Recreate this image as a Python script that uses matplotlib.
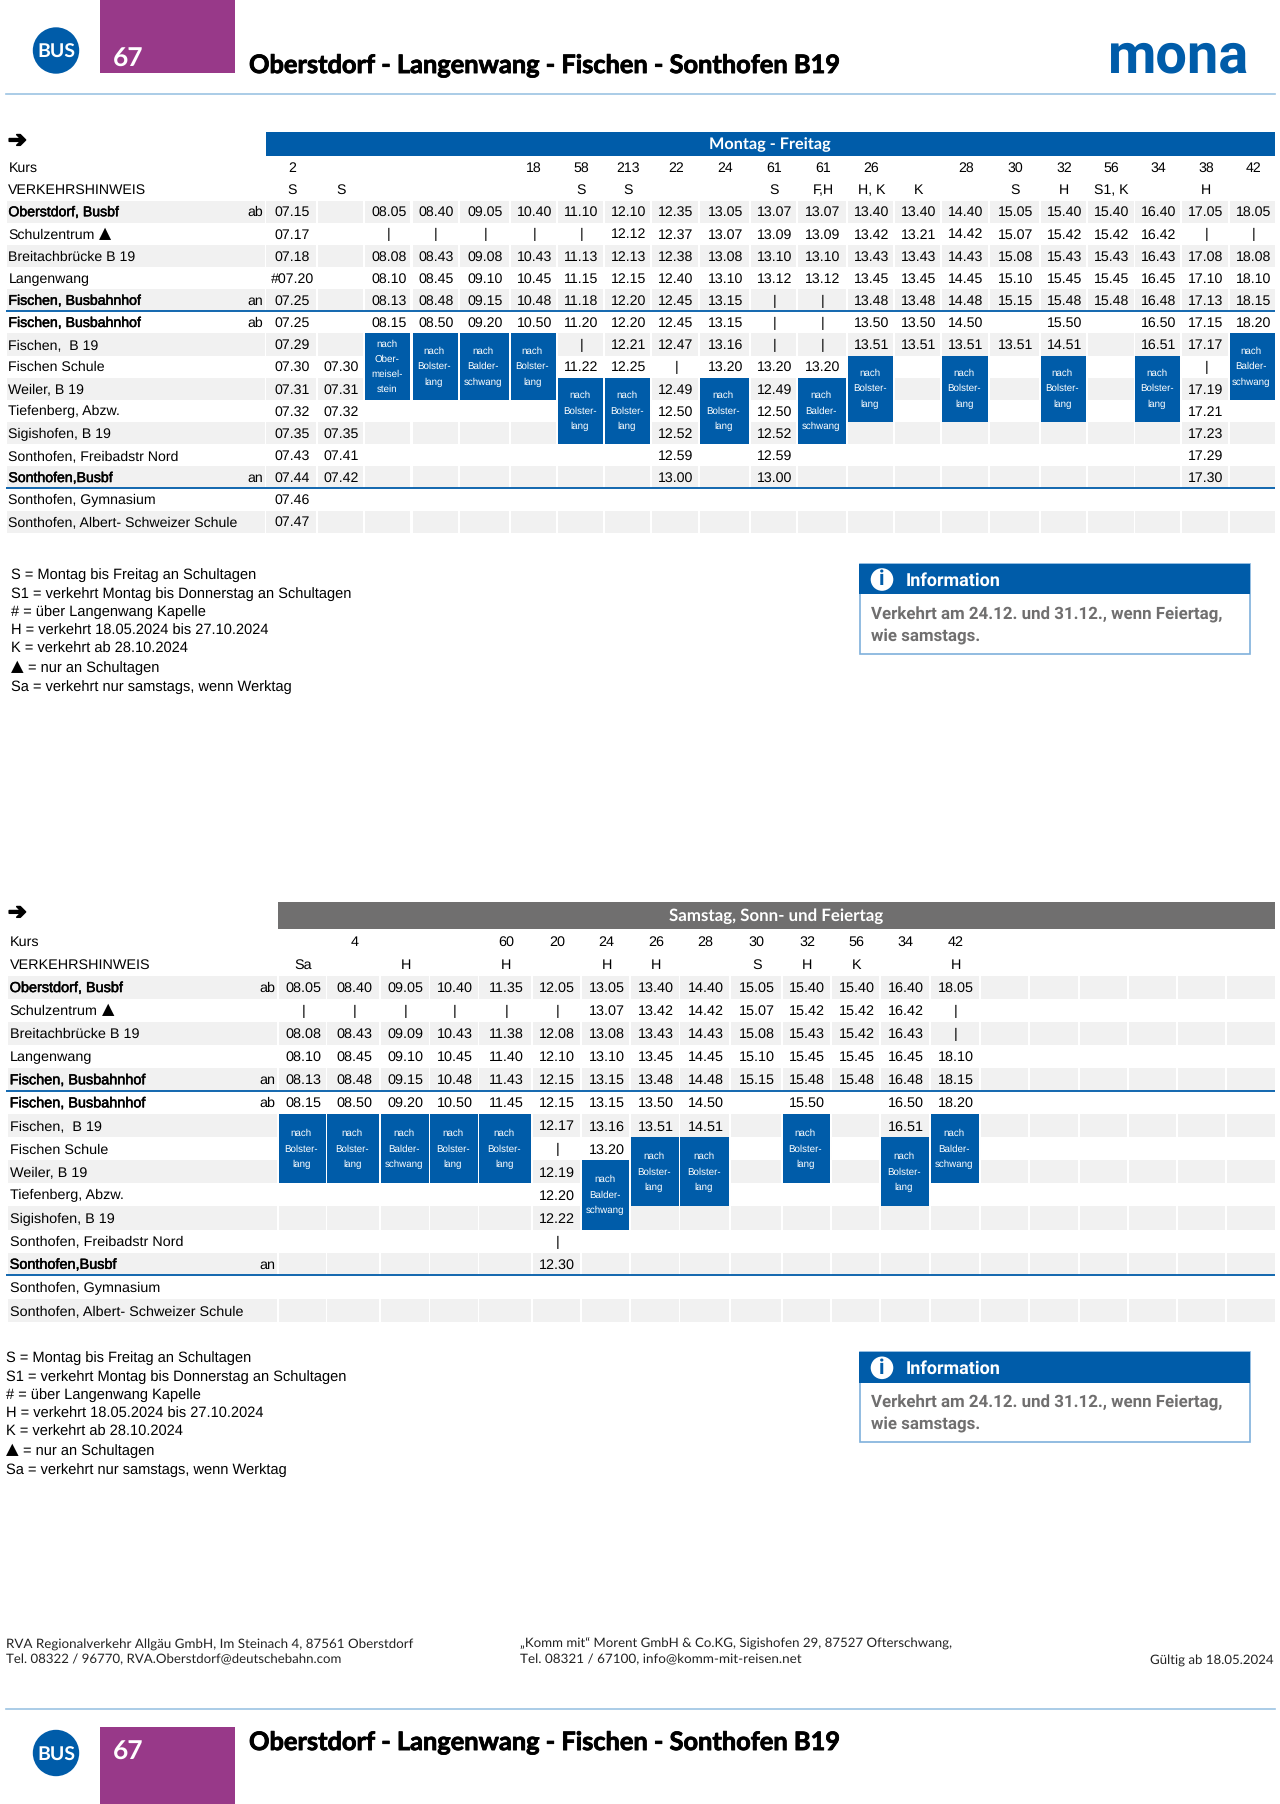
import matplotlib
matplotlib.use("Agg")
import matplotlib.pyplot as plt
from matplotlib.patches import Rectangle, Circle
import matplotlib.patheffects as pe

plt.rcParams['font.family'] = ['Liberation Sans', 'DejaVu Sans']
plt.rcParams['text.hinting'] = 'none'

BLUE = '#005ca9'
BAND = '#f1f1f1'
GREY = '#706f6f'
RULE = '#9cc3e3'
PURPLE = '#983989'
DIN = 'Lato'

# timetable content
stops = ["Oberstdorf, Busbf", "Schulzentrum ▲", "Breitachbrücke B 19", "Langenwang",
         "Fischen, Busbahnhof", "Fischen, Busbahnhof", "Fischen,  B 19", "Fischen Schule",
         "Weiler, B 19", "Tiefenberg, Abzw.", "Sigishofen, B 19", "Sonthofen, Freibadstr Nord",
         "Sonthofen,Busbf", "Sonthofen, Gymnasium", "Sonthofen, Albert- Schweizer Schule"]
bold_stops = [0, 4, 5, 12]
ab_an = ["ab", "", "", "", "an", "ab", "", "", "", "", "", "", "an", "", ""]

kurs_mf = ["2", "", "", "", "", "18", "58", "213", "22", "24", "61", "61", "26", "", "28", "30", "32", "56", "34", "38", "42"]
hinweis_mf = ["S", "S", "", "", "", "", "S", "S", "", "", "S", "F,H", "H, K", "K", "", "S", "H", "S1, K", "", "H", ""]
times_mf = [
    ["07.15", "07.17", "07.18", "#07.20", "07.25", "07.25", "07.29", "07.30", "07.31", "07.32", "07.35", "07.43", "07.44", "07.46", "07.47"],
    ["", "", "", "", "", "", "", "07.30", "07.31", "07.32", "07.35", "07.41", "07.42"],
    ["08.05", "|", "08.08", "08.10", "08.13", "08.15"],
    ["08.40", "|", "08.43", "08.45", "08.48", "08.50"],
    ["09.05", "|", "09.08", "09.10", "09.15", "09.20"],
    ["10.40", "|", "10.43", "10.45", "10.48", "10.50"],
    ["11.10", "|", "11.13", "11.15", "11.18", "11.20", "|", "11.22"],
    ["12.10", "12.12", "12.13", "12.15", "12.20", "12.20", "12.21", "12.25"],
    ["12.35", "12.37", "12.38", "12.40", "12.45", "12.45", "12.47", "|", "12.49", "12.50", "12.52", "12.59", "13.00"],
    ["13.05", "13.07", "13.08", "13.10", "13.15", "13.15", "13.16", "13.20"],
    ["13.07", "13.09", "13.10", "13.12", "|", "|", "|", "13.20", "12.49", "12.50", "12.52", "12.59", "13.00"],
    ["13.07", "13.09", "13.10", "13.12", "|", "|", "|", "13.20"],
    ["13.40", "13.42", "13.43", "13.45", "13.48", "13.50", "13.51"],
    ["13.40", "13.21", "13.43", "13.45", "13.48", "13.50", "13.51"],
    ["14.40", "14.42", "14.43", "14.45", "14.48", "14.50", "13.51"],
    ["15.05", "15.07", "15.08", "15.10", "15.15", "", "13.51"],
    ["15.40", "15.42", "15.43", "15.45", "15.48", "15.50", "14.51"],
    ["15.40", "15.42", "15.43", "15.45", "15.48"],
    ["16.40", "16.42", "16.43", "16.45", "16.48", "16.50", "16.51"],
    ["17.05", "|", "17.08", "17.10", "17.13", "17.15", "17.17", "|", "17.19", "17.21", "17.23", "17.29", "17.30"],
    ["18.05", "|", "18.08", "18.10", "18.15", "18.20"],
]
kurs_sa = ["", "4", "", "", "60", "20", "24", "26", "28", "30", "32", "56", "34", "42"]
hinweis_sa = ["Sa", "", "H", "", "H", "", "H", "H", "", "S", "H", "K", "", "H"]
times_sa = [
    ["08.05", "|", "08.08", "08.10", "08.13", "08.15"],
    ["08.40", "|", "08.43", "08.45", "08.48", "08.50"],
    ["09.05", "|", "09.09", "09.10", "09.15", "09.20"],
    ["10.40", "|", "10.43", "10.45", "10.48", "10.50"],
    ["11.35", "|", "11.38", "11.40", "11.43", "11.45"],
    ["12.05", "|", "12.08", "12.10", "12.15", "12.15", "12.17", "|", "12.19", "12.20", "12.22", "|", "12.30"],
    ["13.05", "13.07", "13.08", "13.10", "13.15", "13.15", "13.16", "13.20"],
    ["13.40", "13.42", "13.43", "13.45", "13.48", "13.50", "13.51"],
    ["14.40", "14.42", "14.43", "14.45", "14.48", "14.50", "14.51"],
    ["15.05", "15.07", "15.08", "15.10", "15.15"],
    ["15.40", "15.42", "15.43", "15.45", "15.48", "15.50"],
    ["15.40", "15.42", "15.42", "15.45", "15.48"],
    ["16.40", "16.42", "16.43", "16.45", "16.48", "16.50", "16.51"],
    ["18.05", "|", "|", "18.10", "18.15", "18.20"],
]

# "nach ..." blocks: column, first stop index, text lines
OBER = ["nach", "Ober-", "meisel-", "stein"]
BOLS = ["nach", "Bolster-", "lang"]
BALD = ["nach", "Balder-", "schwang"]
blocks_mf = [(2, 6, OBER), (3, 6, BOLS), (4, 6, BALD), (5, 6, BOLS), (6, 8, BOLS), (7, 8, BOLS),
             (9, 8, BOLS), (11, 8, BALD), (12, 7, BOLS), (14, 7, BOLS), (16, 7, BOLS), (18, 7, BOLS),
             (20, 6, BALD)]
blocks_sa = [(0, 6, BOLS), (1, 6, BOLS), (2, 6, BALD), (3, 6, BOLS), (4, 6, BOLS), (6, 8, BALD),
             (7, 7, BOLS), (8, 7, BOLS), (10, 6, BOLS), (12, 7, BOLS), (13, 6, BALD)]

notes = ["S = Montag bis Freitag an Schultagen", "S1 = verkehrt Montag bis Donnerstag an Schultagen",
         "# = über Langenwang Kapelle", "H = verkehrt 18.05.2024 bis 27.10.2024", "K = verkehrt ab 28.10.2024",
         "▲ = nur an Schultagen", "Sa = verkehrt nur samstags, wenn Werktag"]
info_lines = ["Verkehrt am 24.12. und 31.12., wenn Feiertag,", "wie samstags."]
title = "Oberstdorf - Langenwang - Fischen - Sonthofen B19"

# layout in pixels
edges_mf = [(266.4, 315.7), (317.8, 362.8), (364.9, 410.4), (412.5, 457.5), (459.6, 508.8), (510.5, 556),
            (558, 603), (604.8, 650.3), (652.2, 698), (699.6, 749), (751, 796), (798, 846), (848, 893),
            (895, 940.4), (942.4, 987.8), (989.8, 1038.8), (1040.8, 1086), (1088, 1133.5), (1135, 1180.4),
            (1182.4, 1227.8), (1229.8, 1274.7)]
edges_sa = [(278.6, 325.8), (327.4, 379.2), (380.9, 428.5), (430, 477.7), (479.4, 531), (532.8, 580),
            (582, 629.2), (630.9, 678.8), (680.4, 729), (730.6, 780.8), (782.9, 829.8), (831.8, 879.2),
            (881.2, 928.6), (930.6, 979.2), (980.8, 1028.2), (1029.8, 1077.6), (1079.6, 1127), (1129, 1176),
            (1178, 1225), (1227, 1274.7)]

fig = plt.figure(figsize=(12.8, 18.04), dpi=100)
ax = fig.add_axes([0, 0, 1, 1])
ax.set_xlim(0, 1280)
ax.set_ylim(1804, 0)
ax.axis('off')


def rect(x0, y0, x1, y1, color, z=1, **kw):
    ax.add_patch(Rectangle((x0, y0), x1 - x0, y1 - y0, facecolor=color, edgecolor='none', zorder=z, **kw))


def fit_text(x, y, s, width, family=DIN, **kw):
    # scale a DIN stand-in so it spans the same width as the reference
    t = ax.text(x, y, s, va='center', family=family, **kw)
    w = t.get_window_extent(fig.canvas.get_renderer()).width
    t.set_fontsize(t.get_fontsize() * width / w)
    return t


def tri_text(x, y, s, fs, gap=4):
    # the triangle is bigger in DejaVu, so it gets its own text
    head, tail = s.split("▲")
    x1 = x
    if head.strip():
        t = ax.text(x, y, head.strip(), fontsize=fs, va='center', zorder=3)
        x1 = x + t.get_window_extent(fig.canvas.get_renderer()).width + gap
    ax.text(x1, y - 1.5, "▲", fontsize=fs * 1.12, family='DejaVu Sans', va='center', zorder=3)
    if tail.strip():
        ax.text(x1 + 17, y, tail.strip(), fontsize=fs, va='center', zorder=3)


def draw_table(edges, kurs, hinweis, times, blocks, y_kurs, pitch, fs, head, head_col, band_x0, label_x, abx, lines):
    def yc(i):
        return y_kurs + pitch * i
    ty = 1.0
    ax.text(8, (head[0] + head[1]) / 2 - 3, "➔", fontsize=16, family='DejaVu Sans', fontweight='bold', va='center',
            color='black', path_effects=[pe.withStroke(linewidth=1.2, foreground='black')])
    rect(edges[0][0] - 0.5, head[0], 1274.7, head[1], head_col)
    ax.text(label_x, yc(0) + ty, "Kurs", fontsize=fs, va='center')
    ax.text(label_x, yc(1) + ty, "VERKEHRSHINWEIS", fontsize=fs, va='center')
    for c, (x0, x1) in enumerate(edges):
        xm = (x0 + x1) / 2 + 1
        if c < len(kurs):
            ax.text(xm, yc(0) + ty, kurs[c], fontsize=fs, ha='center', va='center')
            ax.text(xm, yc(1) + ty, hinweis[c], fontsize=fs, ha='center', va='center')
    for i, name in enumerate(stops):
        r = i + 2
        top, bot = yc(r) - pitch / 2, yc(r) + pitch / 2
        if i % 2 == 0:
            rect(band_x0, top, edges[0][0] - 1.5, bot, BAND)
            for x0, x1 in edges:
                rect(x0, top, x1, bot, BAND)
        if "▲" in name:
            tri_text(label_x, yc(r) + ty, name, fs)
        else:
            t = ax.text(label_x, yc(r) + ty, name, fontsize=fs, va='center', zorder=3)
            if i in bold_stops:
                t.set_path_effects([pe.withStroke(linewidth=0.35, foreground='black')])
        ax.text(abx, yc(r) + ty, ab_an[i], fontsize=fs, ha='right', va='center', zorder=3)
    for c, col in enumerate(times):
        xm = (edges[c][0] + edges[c][1]) / 2 + 1
        for i, val in enumerate(col):
            if val:
                ax.text(xm, yc(i + 2) + ty, val, fontsize=fs, ha='center', va='center', zorder=3)
    for c, start, text_lines in blocks:
        x0, x1 = edges[c]
        top, bot = yc(start + 2) - pitch / 2, yc(start + 4) + pitch / 2
        rect(x0, top, x1, bot, BLUE, z=4)
        for j, line in enumerate(text_lines):
            off = (j - (len(text_lines) - 1) / 2) * 15.2
            ax.text((x0 + x1) / 2 - 1, (top + bot) / 2 + off, line, fontsize=7, color='white',
                    ha='center', va='center', zorder=5)
    for y in lines:
        ax.plot([5.5, 1274.7], [y, y], color=BLUE, lw=1.3, solid_capstyle='butt', zorder=6)


def draw_notes(x, y0, fs):
    for i, line in enumerate(notes):
        if "▲" in line:
            tri_text(x, y0 + 18.6 * i, line, fs)
        else:
            ax.text(x, y0 + 18.6 * i, line, fontsize=fs, va='center')


def draw_info(y0):
    ax.add_patch(Rectangle((859.5, y0), 390, 90.5, facecolor='white', edgecolor='#7fb0dc', lw=1.2, zorder=2))
    rect(859, y0, 1250, y0 + 30.7, BLUE, z=3)
    ax.add_patch(Circle((882, y0 + 16), 11.3, facecolor='white', edgecolor='none', zorder=4))
    ax.text(882, y0 + 16, "i", fontsize=15, fontweight='bold', color=BLUE, family='Roboto', ha='center', va='center', zorder=5)
    fit_text(906, y0 + 17, "Information", 95, family='Roboto', fontsize=14, fontweight='bold', color='white', zorder=5)
    t = fit_text(871, y0 + 51, info_lines[0], 352, family='Roboto', fontsize=12, fontweight='bold', color=GREY, zorder=5)
    ax.text(871, y0 + 73, info_lines[1], va='center', family='Roboto', fontweight='bold', fontsize=t.get_fontsize(), color=GREY, zorder=5)


def draw_brand(y_circle, rect_top, rect_bot, y67, y_title):
    ax.add_patch(Circle((56, y_circle), 23.2, facecolor=BLUE, edgecolor='none'))
    ax.text(56, y_circle + 2, "BUS", color='white', fontsize=14, fontweight='bold', family=DIN, ha='center', va='center')
    rect(100, rect_top, 235, rect_bot, PURPLE)
    ax.text(112.5, y67, "67", color='white', fontsize=19, fontweight='bold', family=DIN, va='center')
    t = fit_text(249, y_title, title, 591, fontsize=18, fontweight='bold', color='black')
    t.set_path_effects([pe.withStroke(linewidth=0.6, foreground='black')])


draw_brand(50.5, 0, 73, 59.5, 66)
ax.plot([5.5, 1275], [94, 94], color=RULE, lw=1.2)
logo = fit_text(1108, 60, "mona", 141, family='Roboto', fontsize=40, fontweight='bold', color=BLUE)
logo.set_va('baseline')
logo.set_y(72.3)

draw_table(edges_mf, kurs_mf, hinweis_mf, times_mf, blocks_mf, 167.3, 22.15, 10.15, (131.7, 156), BLUE,
           6.7, 8.4, 263.5, [311, 488.3])
fit_text(709, 144.5, "Montag - Freitag", 121, fontsize=13, fontweight='bold', color='white')
draw_notes(11, 575, 10.5)
draw_info(563.5)

draw_table(edges_sa, kurs_sa, hinweis_sa, times_sa, blocks_sa, 941.3, 23.06, 10.4, (902.3, 929.3), GREY,
           7.6, 9.7, 275, [1091, 1275])
fit_text(669, 916.5, "Samstag, Sonn- und Feiertag", 214, fontsize=13, fontweight='bold', color='white')
draw_notes(6, 1358, 10.5)
draw_info(1351.8)

# footer
fit_text(5.7, 1644, "RVA Regionalverkehr Allgäu GmbH, Im Steinach 4, 87561 Oberstdorf", 409, fontsize=9, color='#222222')
fit_text(5.7, 1659.7, "Tel. 08322 / 96770, RVA.Oberstdorf@deutschebahn.com", 337, fontsize=9, color='#222222')
fit_text(520, 1644, "„Komm mit“ Morent GmbH & Co.KG, Sigishofen 29, 87527 Ofterschwang,", 432, fontsize=9, color='#222222')
fit_text(520, 1659.7, "Tel. 08321 / 67100, info@komm-mit-reisen.net", 281, fontsize=9, color='#222222')
t = fit_text(1273.5, 1659.7, "Gültig ab 18.05.2024", 124, fontsize=9, color='#222222')
t.set_ha('right')
ax.plot([5.5, 1275], [1709, 1709], color=RULE, lw=1.2)
draw_brand(1753, 1727, 1804, 1752, 1743)

fig.savefig('out.png', dpi=100)
